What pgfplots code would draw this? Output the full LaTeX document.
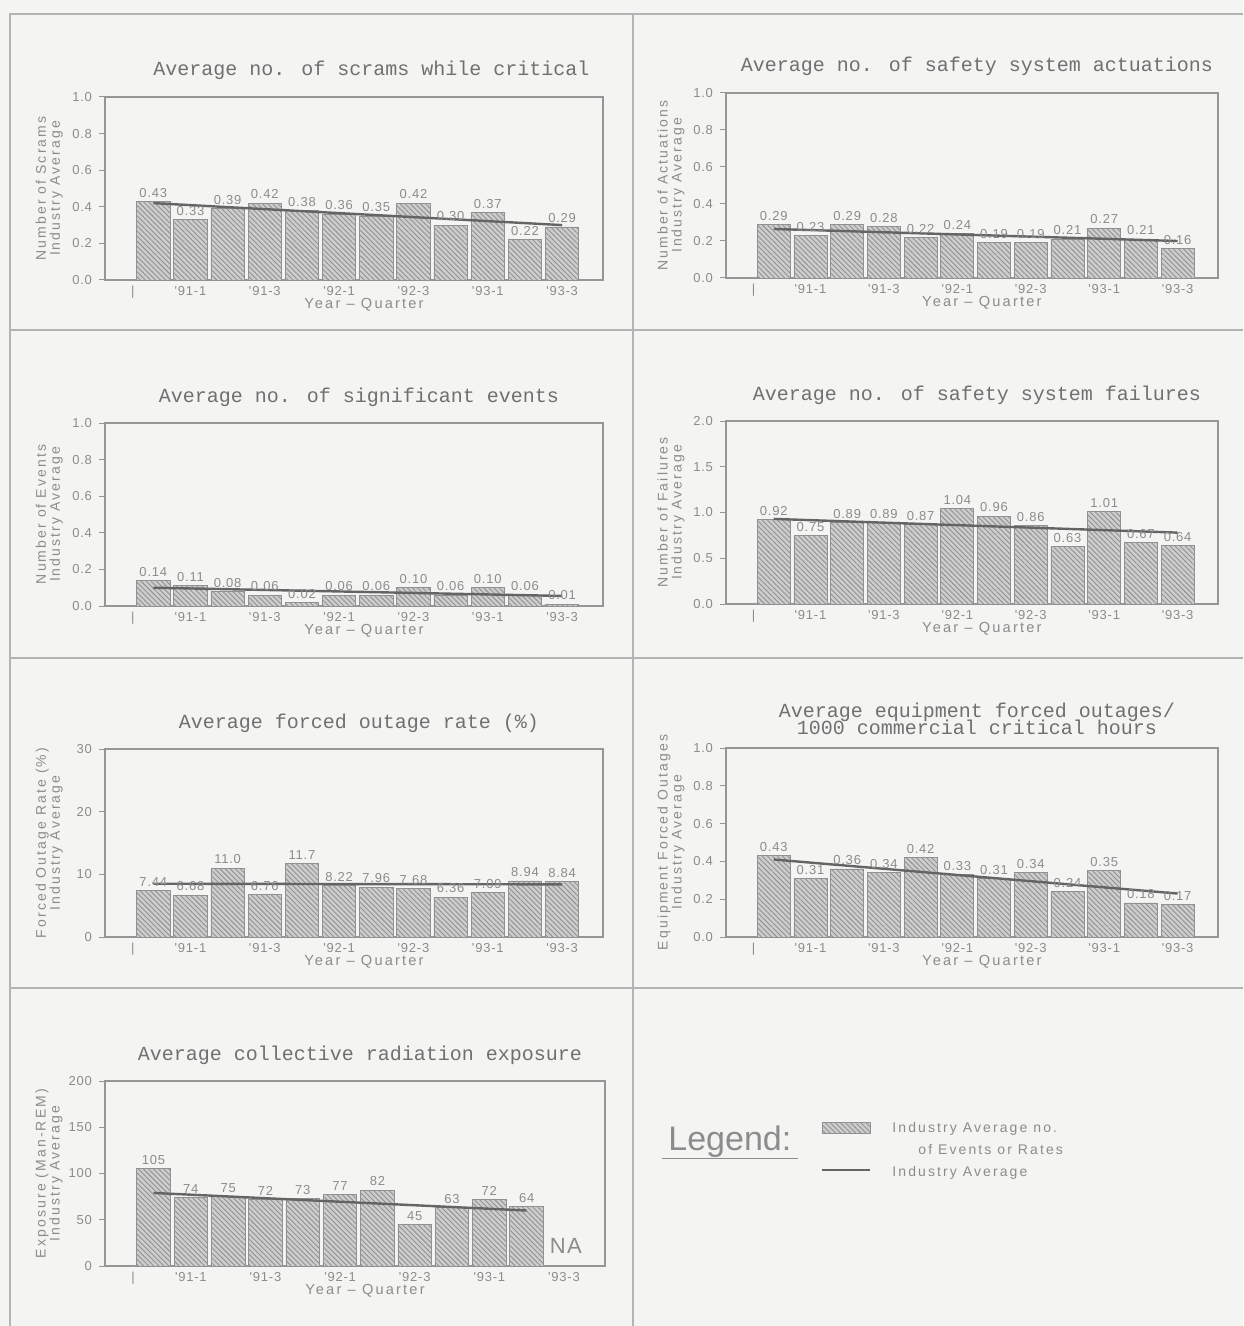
\documentclass[border=0pt]{standalone}
\usepackage{fontspec}
\setmainfont{Liberation Sans}
\newfontfamily\titlefont{Liberation Mono}
\newfontfamily\labfont[LetterSpace=15]{Liberation Sans}
\newfontfamily\tickfont[LetterSpace=6]{Liberation Sans}
\usepackage{pgfplots}
\usepackage{pgfplotstable}
\pgfplotsset{compat=1.18}
\usetikzlibrary{patterns.meta}

\definecolor{bg}{RGB}{244,244,242}
\definecolor{txt}{RGB}{140,140,140}
\definecolor{ttl}{RGB}{112,112,112}
\definecolor{axc}{RGB}{150,150,150}
\definecolor{barfill}{RGB}{205,205,205}
\definecolor{hatch}{RGB}{145,145,145}
\definecolor{avg}{RGB}{100,100,100}
\definecolor{frame}{RGB}{180,180,180}

% data: x, value, label
\pgfplotstableread{
x y lab
0 0.43 0.43
1 0.33 0.33
2 0.39 0.39
3 0.42 0.42
4 0.38 0.38
5 0.36 0.36
6 0.35 0.35
7 0.42 0.42
8 0.30 0.30
9 0.37 0.37
10 0.22 0.22
11 0.29 0.29
}\scrams
\pgfplotstableread{
x y lab
0 0.29 0.29
1 0.23 0.23
2 0.29 0.29
3 0.28 0.28
4 0.22 0.22
5 0.24 0.24
6 0.19 0.19
7 0.19 0.19
8 0.21 0.21
9 0.27 0.27
10 0.21 0.21
11 0.16 0.16
}\actuations
\pgfplotstableread{
x y lab
0 0.14 0.14
1 0.11 0.11
2 0.08 0.08
3 0.06 0.06
4 0.02 0.02
5 0.06 0.06
6 0.06 0.06
7 0.10 0.10
8 0.06 0.06
9 0.10 0.10
10 0.06 0.06
11 0.01 0.01
}\events
\pgfplotstableread{
x y lab
0 0.92 0.92
1 0.75 0.75
2 0.89 0.89
3 0.89 0.89
4 0.87 0.87
5 1.04 1.04
6 0.96 0.96
7 0.86 0.86
8 0.63 0.63
9 1.01 1.01
10 0.67 0.67
11 0.64 0.64
}\failures
\pgfplotstableread{
x y lab
0 7.44 7.44
1 6.68 6.68
2 11.0 11.0
3 6.76 6.76
4 11.7 11.7
5 8.22 8.22
6 7.96 7.96
7 7.68 7.68
8 6.36 6.36
9 7.09 7.09
10 8.94 8.94
11 8.84 8.84
}\outage
\pgfplotstableread{
x y lab
0 0.43 0.43
1 0.31 0.31
2 0.36 0.36
3 0.34 0.34
4 0.42 0.42
5 0.33 0.33
6 0.31 0.31
7 0.34 0.34
8 0.24 0.24
9 0.35 0.35
10 0.18 0.18
11 0.17 0.17
}\equip
\pgfplotstableread{
x y lab
0 105 105
1 74 74
2 75 75
3 72 72
4 73 73
5 77 77
6 82 82
7 45 45
8 63 63
9 72 72
10 64 64
}\exposure

\pgfplotsset{
  panel/.style={
    scale only axis,
    xmin=-1.3, xmax=12.1, ymin=0,
    axis line style={draw=axc, line width=0.6pt},
    xtick={-0.55,1,3,5,7,9,11},
    xticklabels={|,'91-1,'91-3,'92-1,'92-3,'93-1,'93-3},
    xtick pos=bottom, ytick pos=left,
    xtick style={draw=none},
    ytick style={draw=axc, line width=0.5pt},
    tick align=outside, major tick length=3pt,
    /pgf/number format/assume math mode=true,
    tick label style={font=\tickfont\fontsize{6.5}{7}\selectfont, text=txt},
    xticklabel style={yshift=3.5pt},
    yticklabel style={/pgf/number format/.cd, fixed, fixed zerofill, precision=1},
    xlabel={Year – Quarter},
    xlabel style={at={(axis description cs:0.52,0)}, anchor=center, yshift=-12.5pt,
      font=\labfont\fontsize{7.3}{8}\selectfont, text=txt},
    ylabel style={at={(axis description cs:-0.112,0.5)}, anchor=center, align=center,
      font=\labfont\fontsize{7}{7}\selectfont, text=txt},
    title style={at={(axis description cs:0.51,1)}, anchor=base, yshift=4.5pt,
      font=\titlefont\fontsize{10}{11}\selectfont, text=ttl},
    clip=false,
    axis background/.style={fill=bg},
  },
  bars/.style={
    ybar, bar width=0.9, bar shift=0pt,
    draw=hatch, line width=0.4pt, fill=barfill,
    postaction={pattern={Lines[angle=-45,distance=1.8pt,line width=0.45pt]}, pattern color=hatch},
    point meta=explicit symbolic,
    nodes near coords,
    nodes near coords style={font=\tickfont\fontsize{6.5}{7}\selectfont, text=txt, anchor=south, yshift=-1.5pt},
  },
  avgline/.style={sharp plot, no marks, draw=avg, line width=1.2pt},
}

\begin{document}
\begin{tikzpicture}
\path[use as bounding box, fill=bg] (0pt,0pt) rectangle (621.5pt,-663pt);
% panel frame
\draw[frame, line width=0.6pt] (621.5pt,-7pt) -- (5pt,-7pt) -- (5pt,-663pt);
\draw[frame, line width=0.6pt] (316.5pt,-7pt) -- (316.5pt,-663pt);
\draw[frame, line width=0.6pt] (5pt,-165pt) -- (621.5pt,-165pt);
\draw[frame, line width=0.6pt] (5pt,-329pt) -- (621.5pt,-329pt);
\draw[frame, line width=0.6pt] (5pt,-494pt) -- (621.5pt,-494pt);

% Panel 1
\begin{axis}[panel, at={(52.5pt,-140pt)}, anchor=south west, width=249pt, height=91.5pt,
  ymax=1.0, ytick={0,0.2,0.4,0.6,0.8,1.0},
  title={Average no. of scrams while critical},
  title style={at={(axis description cs:0.535,1)}},
  ylabel={Number of Scrams\\Industry Average}]
\addplot[bars] table[x=x, y=y, meta=lab] {\scrams};
\addplot[avgline] coordinates {(0,0.42) (11,0.30)};
\end{axis}

% Panel 2
\begin{axis}[panel, at={(363pt,-139pt)}, anchor=south west, width=246pt, height=92.5pt,
  ymax=1.0, ytick={0,0.2,0.4,0.6,0.8,1.0},
  title={Average no. of safety system actuations},
  ylabel={Number of Actuations\\Industry Average}]
\addplot[bars] table[x=x, y=y, meta=lab] {\actuations};
\addplot[avgline] coordinates {(0,0.265) (11,0.20)};
\end{axis}

% Panel 3
\begin{axis}[panel, at={(52.5pt,-303pt)}, anchor=south west, width=249pt, height=91.5pt,
  ymax=1.0, ytick={0,0.2,0.4,0.6,0.8,1.0},
  title={Average no. of significant events},
  ylabel={Number of Events\\Industry Average}]
\addplot[bars] table[x=x, y=y, meta=lab] {\events};
\addplot[avgline] coordinates {(0,0.10) (11,0.055)};
\end{axis}

% Panel 4
\begin{axis}[panel, at={(363pt,-302pt)}, anchor=south west, width=246pt, height=91.5pt,
  ymax=2.0, ytick={0,0.5,1.0,1.5,2.0},
  title={Average no. of safety system failures},
  ylabel={Number of Failures\\Industry Average}]
\addplot[bars] table[x=x, y=y, meta=lab] {\failures};
\addplot[avgline] coordinates {(0,0.93) (11,0.78)};
\end{axis}

% Panel 5
\begin{axis}[panel, at={(52.5pt,-468.5pt)}, anchor=south west, width=249pt, height=94pt,
  ymax=30, ytick={0,10,20,30},
  yticklabel style={/pgf/number format/.cd, fixed, precision=0},
  title={Average forced outage rate (\%)},
  ylabel={Forced Outage Rate (\%)\\Industry Average}]
\addplot[bars] table[x=x, y=y, meta=lab] {\outage};
\addplot[avgline] coordinates {(0,8.5) (11,8.4)};
\end{axis}

% Panel 6
\begin{axis}[panel, at={(363pt,-468.5pt)}, anchor=south west, width=246pt, height=94.5pt,
  ymax=1.0, ytick={0,0.2,0.4,0.6,0.8,1.0},
  title={Average equipment forced outages/\\[-2.5pt]1000 commercial critical hours},
  title style={align=center, anchor=south, yshift=-7.5pt},
  ylabel={Equipment Forced Outages\\Industry Average}]
\addplot[bars] table[x=x, y=y, meta=lab] {\equip};
\addplot[avgline] coordinates {(0,0.41) (11,0.23)};
\end{axis}

% Panel 7
\begin{axis}[panel, at={(52.5pt,-633pt)}, anchor=south west, width=250pt, height=92.5pt,
  ymax=200, ytick={0,50,100,150,200},
  yticklabel style={/pgf/number format/.cd, fixed, precision=0},
  title={Average collective radiation exposure},
  ylabel={Exposure (Man-REM)\\Industry Average}]
\addplot[bars] table[x=x, y=y, meta=lab] {\exposure};
\addplot[avgline] coordinates {(0,79) (10,60)};
\node[font=\tickfont\fontsize{11}{12}\selectfont, text=txt] at (axis cs:11.05,22) {NA};
\end{axis}

% Legend panel
\node[anchor=base west, inner sep=0pt, font=\fontsize{17}{18}\selectfont, text=txt] at (334pt,-575pt) {Legend:};
\draw[txt, line width=0.5pt] (331pt,-579pt) -- (399pt,-579pt);
\path[draw=hatch, line width=0.4pt, fill=barfill, postaction={pattern={Lines[angle=-45,distance=1.8pt,line width=0.45pt]}, pattern color=hatch}] (411pt,-561pt) rectangle (435pt,-566.5pt);
\draw[avg, line width=0.8pt] (411pt,-585pt) -- (435pt,-585pt);
\node[anchor=base west, inner sep=0pt, font=\labfont\fontsize{7}{8}\selectfont, text=txt] at (446pt,-566pt) {Industry Average no.};
\node[anchor=base west, inner sep=0pt, font=\labfont\fontsize{7}{8}\selectfont, text=txt] at (459pt,-577pt) {of Events or Rates};
\node[anchor=base west, inner sep=0pt, font=\labfont\fontsize{7}{8}\selectfont, text=txt] at (446pt,-588pt) {Industry Average};
\end{tikzpicture}
\end{document}
